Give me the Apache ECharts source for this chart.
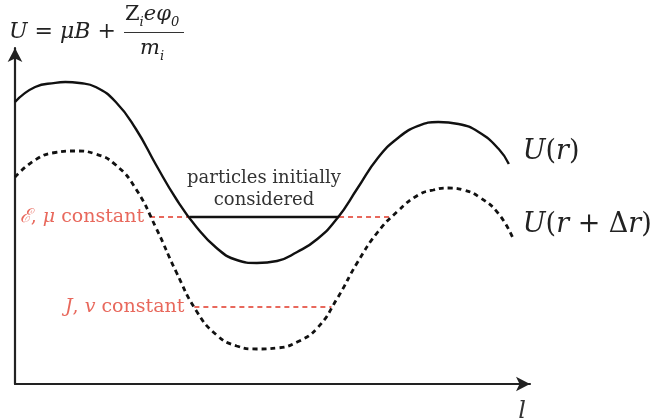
<!DOCTYPE html>
<html>
<head>
<meta charset="utf-8">
<script src="https://cdn.jsdelivr.net/npm/echarts@6/dist/echarts.min.js"></script>
<style>html,body{margin:0;padding:0;background:#fff}#c{width:650px;height:419px}</style>
</head>
<body>
<div id="c"></div>
<script>
// Potential U(r) (solid) along l
const uR = [
  [0, 83.93], [3.91, 88.39], [7.83, 89.64], [9.78, 89.88], [12.52, 89.58], [15.66, 88.39], [19.57, 83.93],
  [23.48, 75.89], [27.40, 65.18], [31.31, 55.06], [35.23, 46.73], [39.14, 40.48], [43.05, 36.90],
  [46.97, 36.01], [50.88, 36.61], [54.79, 39.29], [58.71, 43.15], [62.62, 49.40], [66.54, 58.33],
  [70.45, 67.26], [74.36, 73.21], [78.28, 76.79], [82.19, 77.98], [86.11, 77.38], [90.02, 75.00],
  [93.93, 69.94], [95.89, 65.48]
];
// Potential U(r + Δr) (dashed) along l
const uRdr = [
  [0, 61.61], [3.91, 66.67], [7.83, 68.90], [11.74, 69.35], [15.66, 68.45], [19.57, 65.18],
  [23.48, 58.04], [27.40, 46.43], [31.31, 33.33], [35.23, 21.73], [39.14, 14.58], [43.05, 11.31],
  [46.97, 10.42], [50.88, 10.71], [54.79, 12.50], [58.71, 16.67], [62.62, 25.60], [66.54, 36.31],
  [70.45, 45.24], [74.36, 51.49], [78.28, 56.25], [81.21, 57.74], [84.15, 58.33], [87.08, 57.74],
  [90.41, 55.36], [93.93, 50.60], [96.67, 43.45]
];
// Energy level of particles initially considered (E, mu constant)
const levelE = 49.7;
const levelEx = [26.22, 73.19];     // red dashed extent
const trappedEx = [33.86, 62.82];   // black segment extent (inside U(r))
// Level with J, v constant
const levelJ = 22.92;
const levelJx = [34.83, 61.45];

const red = '#e8685c';
const serif = '"DejaVu Serif", "Liberation Serif", serif';

const chart = echarts.init(document.getElementById('c'));
chart.setOption({
  animation: false,
  grid: { left: 15, right: 120, top: 48, bottom: 35, outerBoundsMode: 'none', containLabel: false },
  xAxis: {
    type: 'value', min: 0, max: 100,
    axisLine: { show: true, symbol: ['none', 'arrow'], symbolSize: [11, 14], lineStyle: { color: '#222', width: 2.2 } },
    axisTick: { show: false }, axisLabel: { show: false }, splitLine: { show: false },
    name: 'l', nameLocation: 'end', nameGap: 0,
    nameTextStyle: { fontFamily: serif, fontStyle: 'italic', fontSize: 24, color: '#333', align: 'center', verticalAlign: 'top', padding: [16, 0, 0, -16] }
  },
  yAxis: {
    type: 'value', min: 0, max: 100,
    axisLine: { show: true, symbol: ['none', 'arrow'], symbolSize: [11, 14], lineStyle: { color: '#222', width: 2.2 } },
    axisTick: { show: false }, axisLabel: { show: false }, splitLine: { show: false }
  },
  series: [
    {
      name: 'U(r)', type: 'line', data: uR, smooth: 0.5, symbol: 'none',
      lineStyle: { color: '#111', width: 2.4 },
      endLabel: {
        show: true, offset: [6, -12],
        formatter: '{i|U}{n|(}{i|r}{n|)}',
        rich: {
          i: { fontFamily: serif, fontStyle: 'italic', fontSize: 27, color: '#222' },
          n: { fontFamily: serif, fontSize: 27, color: '#222' }
        }
      }
    },
    {
      name: 'U(r+Δr)', type: 'line', data: uRdr, smooth: 0.5, symbol: 'none',
      lineStyle: { color: '#111', width: 2.8, type: [5, 4] },
      endLabel: {
        show: true, offset: [2, -13],
        formatter: '{i|U}{n|(}{i|r}{n| + Δ}{i|r}{n|)}',
        rich: {
          i: { fontFamily: serif, fontStyle: 'italic', fontSize: 27, color: '#222' },
          n: { fontFamily: serif, fontSize: 27, color: '#222' }
        }
      }
    },
    {
      name: 'E level', type: 'line', symbol: 'circle', symbolSize: 0, showSymbol: true,
      lineStyle: { color: red, width: 2.2, type: [5, 4] },
      data: [
        { value: [levelEx[0], levelE], label: { show: true, position: 'left', distance: 6,
          formatter: '{i|ℰ}{n|, }{i|μ}{n| constant}',
          rich: {
            i: { fontFamily: serif, fontStyle: 'italic', fontSize: 19, color: red },
            n: { fontFamily: serif, fontSize: 19, color: red }
          } } },
        [levelEx[1], levelE]
      ],
      z: 1
    },
    {
      name: 'trapped', type: 'line', symbol: 'circle', symbolSize: 0, showSymbol: false,
      lineStyle: { color: '#111', width: 2.4 },
      data: [[trappedEx[0], levelE], [trappedEx[1], levelE]],
      markPoint: {
        symbol: 'circle', symbolSize: 0,
        data: [{ coord: [(trappedEx[0] + trappedEx[1]) / 2, levelE] }],
        label: {
          show: true, position: 'top', distance: 6,
          formatter: 'particles initially\nconsidered',
          fontFamily: serif, fontSize: 18, color: '#333', lineHeight: 22, align: 'center'
        }
      },
      z: 3
    },
    {
      name: 'J level', type: 'line', symbol: 'circle', symbolSize: 0, showSymbol: true,
      lineStyle: { color: red, width: 2.2, type: [5, 4] },
      data: [
        { value: [levelJx[0], levelJ], label: { show: true, position: 'left', distance: 10,
          formatter: '{i|J}{n|, }{i|v}{n| constant}',
          rich: {
            i: { fontFamily: serif, fontStyle: 'italic', fontSize: 19, color: red },
            n: { fontFamily: serif, fontSize: 19, color: red }
          } } },
        [levelJx[1], levelJ]
      ],
      z: 1
    }
  ],
  graphic: [
    {
      type: 'text', left: 9, top: 21,
      style: {
        text: '{i|U}{e|=}{i|μB}{p|+}',
        rich: {
          i: { fontFamily: serif, fontStyle: 'italic', fontSize: 22, fill: '#222' },
          e: { fontFamily: serif, fontSize: 22, fill: '#222', padding: [0, 7, 0, 7] },
          p: { fontFamily: serif, fontSize: 22, fill: '#222', padding: [0, 0, 0, 7] }
        }
      }
    },
    {
      type: 'text', left: 125, top: 4,
      style: {
        text: '{n|Z}{s|i}{i|eφ}{s|0}',
        rich: {
          i: { fontFamily: serif, fontStyle: 'italic', fontSize: 21, fill: '#222', verticalAlign: 'bottom' },
          n: { fontFamily: serif, fontSize: 21, fill: '#222', verticalAlign: 'bottom' },
          s: { fontFamily: serif, fontStyle: 'italic', fontSize: 13, fill: '#222', verticalAlign: 'bottom', padding: [0, 0, -4, 0] }
        }
      }
    },
    {
      type: 'line', shape: { x1: 124, y1: 32.5, x2: 184, y2: 32.5 },
      style: { stroke: '#333', lineWidth: 1.2 }
    },
    {
      type: 'text', left: 140, top: 38,
      style: {
        text: '{i|m}{s|i}',
        rich: {
          i: { fontFamily: serif, fontStyle: 'italic', fontSize: 21, fill: '#222', verticalAlign: 'bottom' },
          s: { fontFamily: serif, fontStyle: 'italic', fontSize: 13, fill: '#222', verticalAlign: 'bottom', padding: [0, 0, -4, 0] }
        }
      }
    }
  ]
});
</script>
</body>
</html>
